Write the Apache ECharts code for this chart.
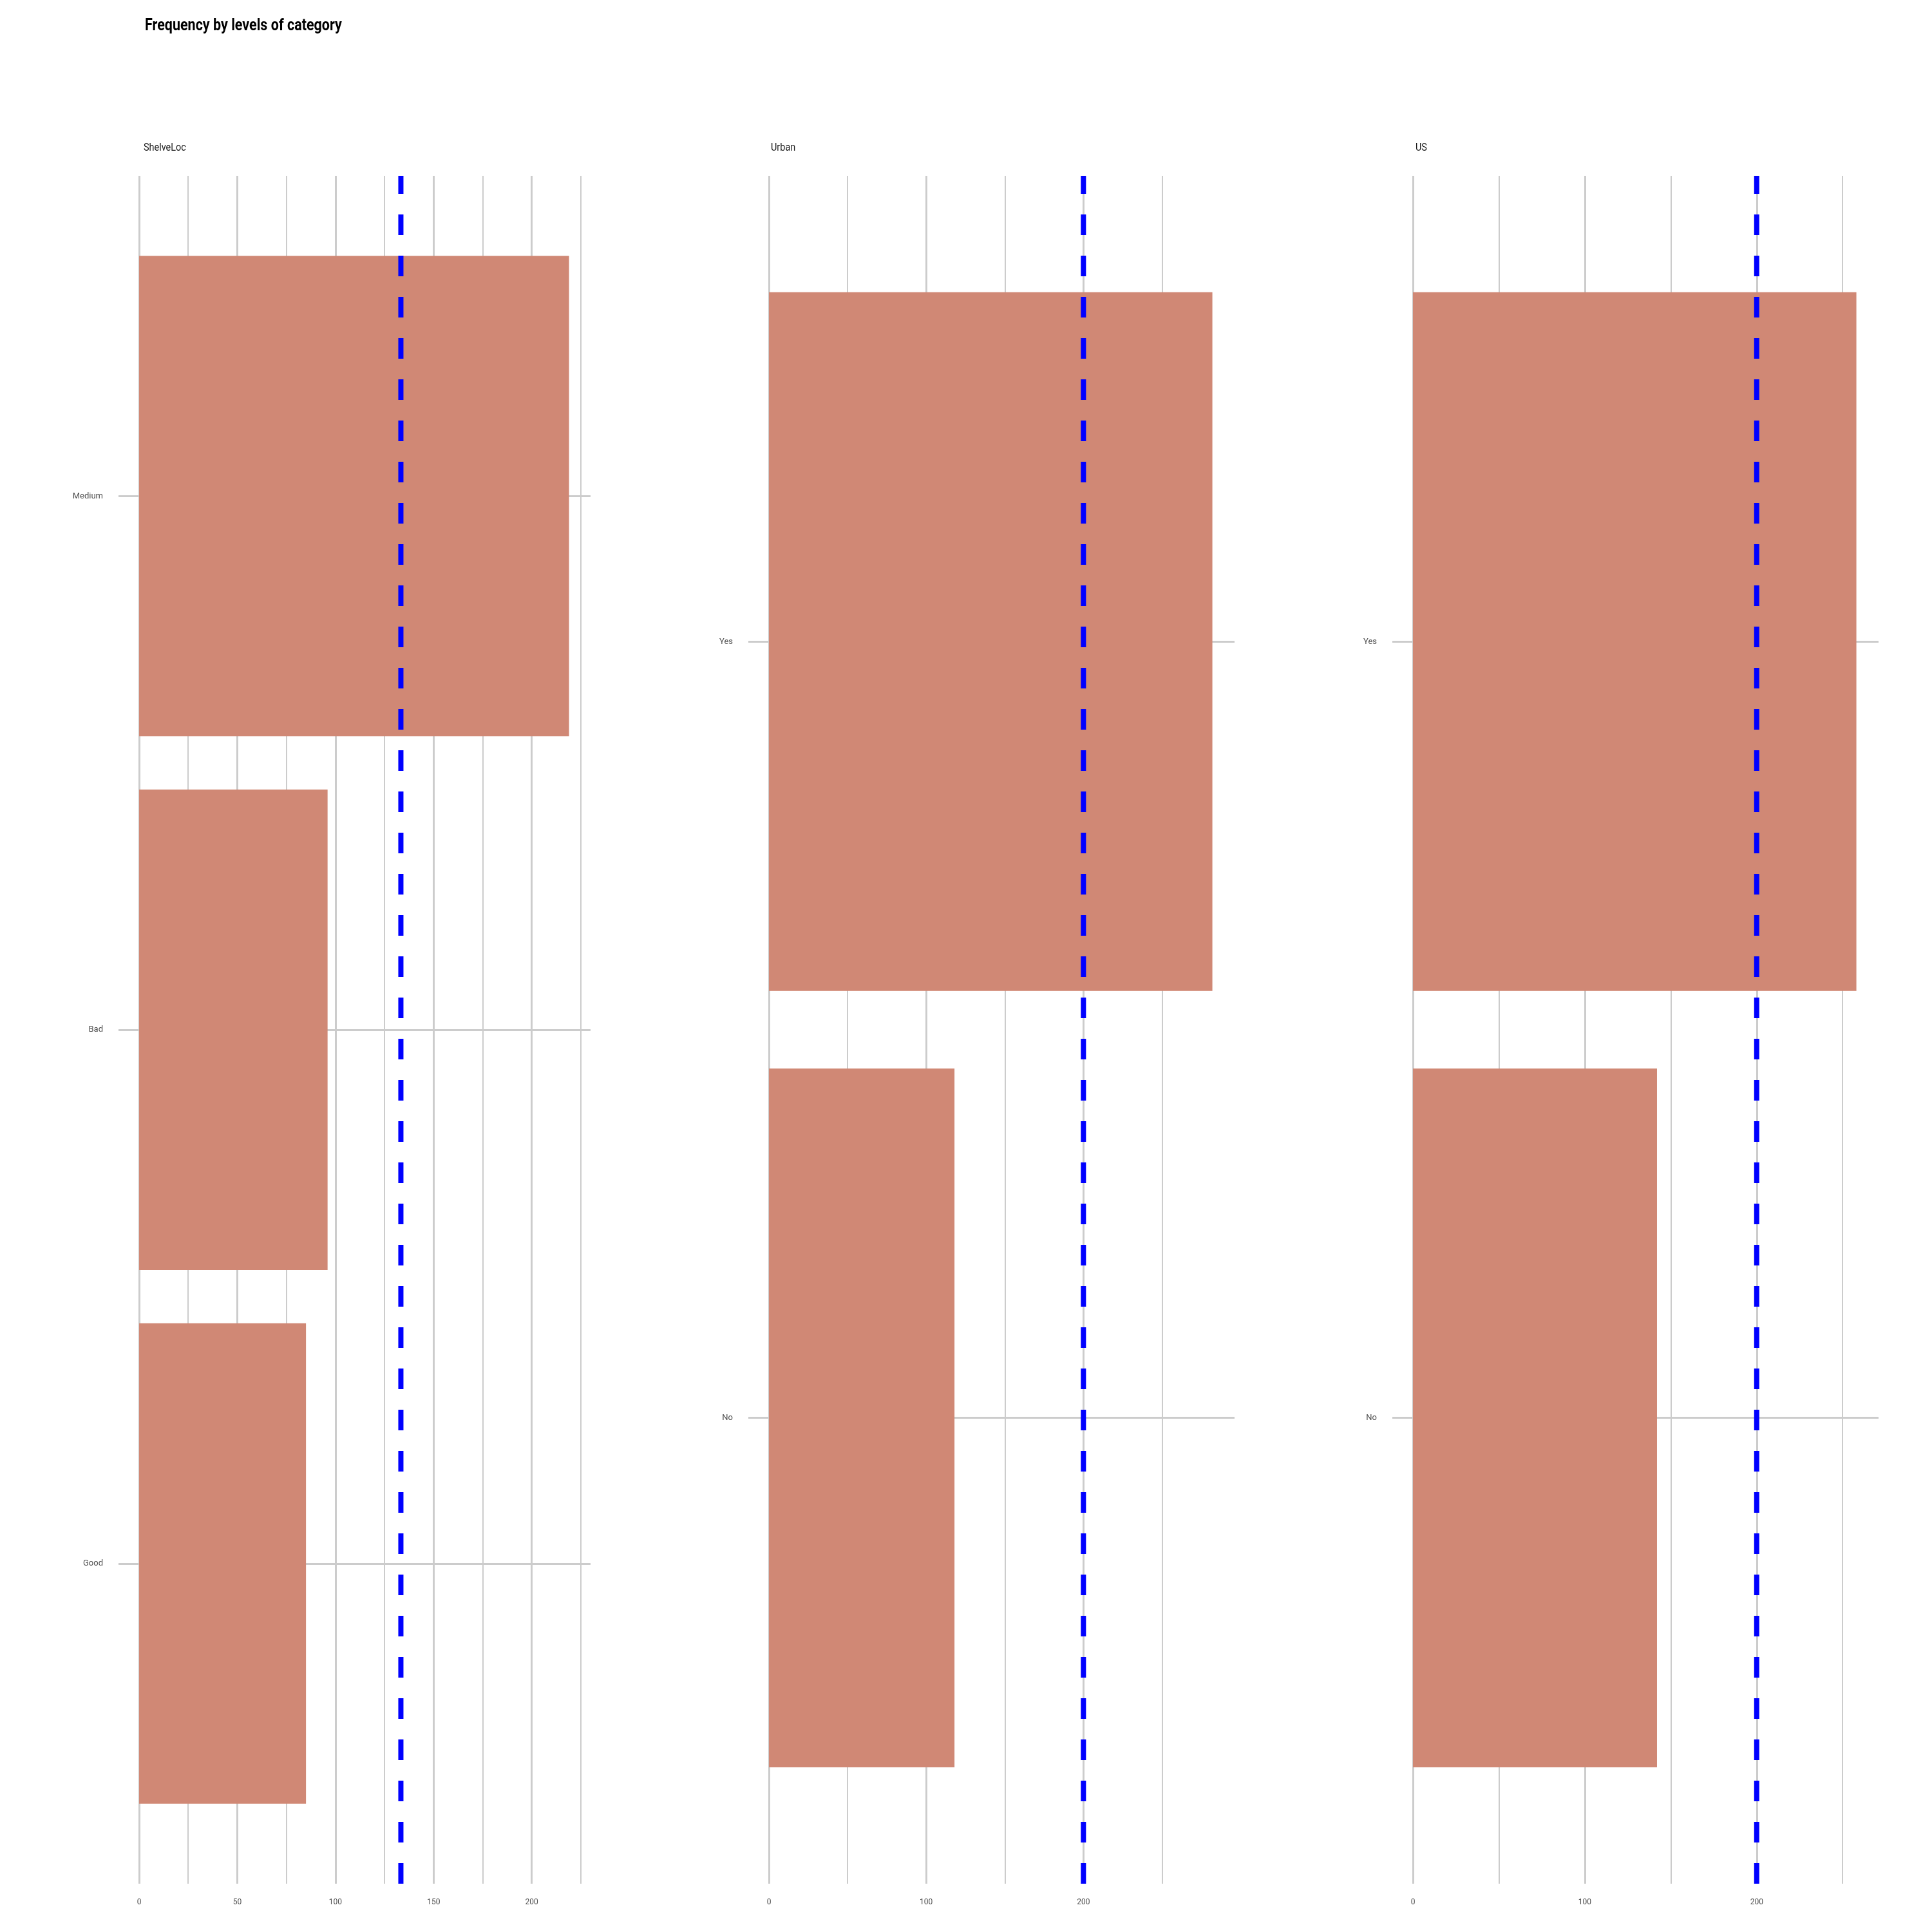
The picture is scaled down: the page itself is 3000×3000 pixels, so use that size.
<!DOCTYPE html>
<html><head><meta charset="utf-8">
<script src="https://cdn.jsdelivr.net/npm/echarts@6/dist/echarts.min.js"></script>
<style>html,body{margin:0;padding:0;background:#fff}#c{width:3000px;height:3000px}</style>
</head><body><div id="c"></div>
<script>
// ---- data ----
const chartTitle = 'Frequency by levels of category';
const panelNames = ['ShelveLoc', 'Urban', 'US'];
const shelveLocCats = ['Medium', 'Bad', 'Good'];
const shelveLocVals = [219, 96, 85];
const urbanCats = ['Yes', 'No'];
const urbanVals = [282, 118];
const usCats = ['Yes', 'No'];
const usVals = [258, 142];
const shelveLocTicks = [0, 50, 100, 150, 200];
const urbanTicks = [0, 100, 200];
const usTicks = [0, 100, 200];

// ---- layout / style ----
const FONT = "'Roboto', 'Noto Sans', sans-serif";
const TOP = 273, H = 2652;
const GRID_C = '#cccccc';
const panels = [
  { name: panelNames[0], cats: shelveLocCats, vals: shelveLocVals, ticks: shelveLocTicks, left: 216, width: 701, stripX: 223 },
  { name: panelNames[1], cats: urbanCats, vals: urbanVals, ticks: urbanTicks, left: 1194, width: 723, stripX: 1197 },
  { name: panelNames[2], cats: usCats, vals: usVals, ticks: usTicks, left: 2194, width: 723, stripX: 2198 }
];

const grid = [], xAxis = [], yAxis = [], series = [];
const graphic = [{
  type: 'text', x: 225, y: 28, scaleX: 0.86,
  style: { text: chartTitle, fontFamily: FONT, fontSize: 25, fontWeight: 'bold', fill: '#000', verticalAlign: 'top' }
}];

panels.forEach((p, i) => {
  const n = p.cats.length;
  const unit = H / (n + 0.2);
  const max = Math.max(...p.vals) * 1.05;
  const step = p.ticks[1] - p.ticks[0];
  const mean = p.vals.reduce((a, b) => a + b, 0) / n;
  const gMajor = i * 3, gMinor = i * 3 + 1, gInner = i * 3 + 2;

  grid.push({ left: p.left, width: p.width, top: TOP, height: H, outerBoundsMode: 'none' });
  grid.push({ left: p.left, width: p.width, top: TOP, height: H, outerBoundsMode: 'none' });
  grid.push({ left: p.left, width: p.width, top: TOP + 0.1 * unit, height: n * unit, outerBoundsMode: 'none' });

  xAxis.push({
    gridIndex: gMajor, type: 'value', min: 0, max: max, interval: step,
    axisLine: { show: false }, axisTick: { show: false },
    axisLabel: {
      show: true, margin: 23, fontSize: 12, color: '#4d4d4d', fontFamily: FONT,
      showMaxLabel: false,
      formatter: v => (p.ticks.indexOf(v) >= 0 ? String(v) : '')
    },
    splitLine: { show: true, showMaxLine: false, lineStyle: { color: GRID_C, width: 3 } }
  });
  xAxis.push({
    gridIndex: gMinor, type: 'value', min: 0, max: max, interval: step / 2,
    axisLine: { show: false }, axisTick: { show: false }, axisLabel: { show: false },
    splitLine: { show: true, showMaxLine: false, lineStyle: { color: GRID_C, width: 2 } }
  });
  xAxis.push({ gridIndex: gInner, type: 'value', min: 0, max: max, show: false });

  yAxis.push({ gridIndex: gMajor, type: 'value', min: 0, max: 1, show: false });
  yAxis.push({ gridIndex: gMinor, type: 'value', min: 0, max: 1, show: false });
  yAxis.push({
    gridIndex: gInner, type: 'category', data: p.cats, inverse: true,
    axisLine: { show: false },
    axisTick: { show: true, alignWithLabel: true, length: 32, lineStyle: { color: GRID_C, width: 3 } },
    axisLabel: { margin: 56, fontSize: 13, color: '#4d4d4d', fontFamily: FONT },
    splitLine: { show: false }
  });

  series.push({
    type: 'bar', xAxisIndex: gInner, yAxisIndex: gInner, data: p.vals,
    barCategoryGap: '10%', itemStyle: { color: '#D08875' }, z: 2, silent: true,
    markLine: {
      silent: true, symbol: 'none', z: 1, animation: false,
      label: { show: false },
      lineStyle: { type: 'solid', color: GRID_C, width: 3 },
      data: p.cats.map(c => ({ yAxis: c }))
    }
  });
  series.push({
    type: 'line', xAxisIndex: gMajor, yAxisIndex: gMajor,
    data: [[mean, 0], [mean, 1]], symbol: 'none', z: 5, silent: true,
    lineStyle: { color: '#0000ff', width: 8, type: [32, 32], cap: 'butt' }
  });

  graphic.push({
    type: 'text', x: p.stripX, y: 221, scaleX: 0.85,
    style: { text: p.name, fontFamily: FONT, fontSize: 17, fill: '#1a1a1a', verticalAlign: 'top' }
  });
});

const chart = echarts.init(document.getElementById('c'), null, { renderer: 'canvas' });
chart.setOption({
  animation: false, backgroundColor: '#ffffff',
  graphic, grid, xAxis, yAxis, series
});
</script>
</body></html>
